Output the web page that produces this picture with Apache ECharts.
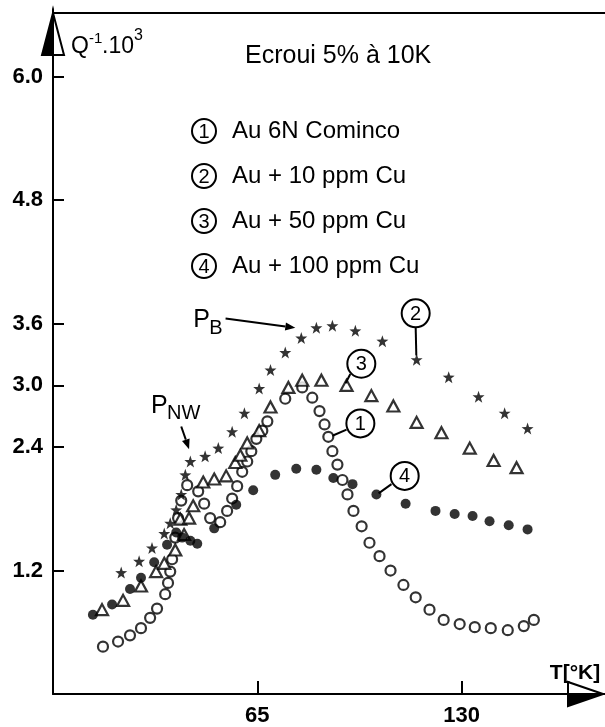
<!DOCTYPE html>
<html><head><meta charset="utf-8">
<script src="https://cdn.jsdelivr.net/npm/echarts@6/dist/echarts.min.js"></script>
<style>html,body{margin:0;padding:0;background:#fff}#c{width:605px;height:727px}</style>
</head><body><div id="c"></div>
<script>
// ---- data (T [K], Q^-1 x 10^3) ----
const cominco = [[15.9,0.46],[20.7,0.51],[24.5,0.57],[28.0,0.64],[30.9,0.74],[33.1,0.83],[35.7,0.97],[36.6,1.08],[37.3,1.19],[37.9,1.31],[38.9,1.52],[39.8,1.71],[40.8,1.88],[42.7,2.03],[46.2,1.97],[48.1,1.85],[50.0,1.71],[53.2,1.67],[55.4,1.78],[57.0,1.90],[58.6,2.02],[60.2,2.16],[61.8,2.26],[63.1,2.36],[64.7,2.48],[66.6,2.56],[68.2,2.65],[73.9,2.87],[79.3,2.98],[82.5,2.88],[84.8,2.75],[86.4,2.62],[87.6,2.50],[88.9,2.36],[90.5,2.23],[92.1,2.08],[93.7,1.94],[95.6,1.78],[98.2,1.63],[100.7,1.47],[103.9,1.34],[107.4,1.20],[111.5,1.06],[115.4,0.94],[119.8,0.82],[124.3,0.72],[129.4,0.68],[134.2,0.65],[139.3,0.64],[144.7,0.62],[149.8,0.66],[153.0,0.72]];
const cu10 = [[21.7,1.18],[27.4,1.29],[31.5,1.42],[35.4,1.56],[37.3,1.66],[39.2,1.79],[40.8,1.94],[42.1,2.13],[43.7,2.26],[48.4,2.31],[52.6,2.39],[57.0,2.55],[60.9,2.73],[65.6,2.97],[69.2,3.15],[73.9,3.32],[79.0,3.46],[83.8,3.56],[88.9,3.58],[96.2,3.53],[104.8,3.43],[115.7,3.25],[125.9,3.08],[135.4,2.89],[143.7,2.73],[151.0,2.58]];
const cu50 = [[15.6,0.82],[22.3,0.91],[28.0,1.05],[32.8,1.19],[35.4,1.27],[38.9,1.40],[41.7,1.55],[40.5,1.70],[43.3,1.71],[44.6,1.83],[47.8,2.06],[51.3,2.09],[55.1,2.12],[58.0,2.25],[59.6,2.32],[61.8,2.44],[65.6,2.56],[69.2,2.79],[74.9,2.98],[79.3,3.05],[85.4,3.05],[93.4,3.00],[101.3,2.90],[108.3,2.80],[115.7,2.64],[123.6,2.54],[132.6,2.39],[140.2,2.27],[147.5,2.20]];
const cu100 = [[12.7,0.77],[18.8,0.87],[24.5,1.02],[28.0,1.13],[32.2,1.28],[36.3,1.45],[39.2,1.57],[41.1,1.52],[43.7,1.49],[45.9,1.46],[51.3,1.61],[58.3,1.84],[63.7,1.98],[70.7,2.13],[77.4,2.19],[83.8,2.18],[89.2,2.10],[95.3,2.04],[102.9,1.94],[112.2,1.85],[121.7,1.78],[127.8,1.75],[133.5,1.73],[138.9,1.68],[145.0,1.64],[151.0,1.60]];
const yTicks = [1.2, 2.4, 3.0, 3.6, 4.8, 6.0];
const xTicks = [65, 130];
const title = 'Ecroui 5% à 10K';
const legendNames = ['Au 6N Cominco', 'Au + 10 ppm Cu', 'Au + 50 ppm Cu', 'Au + 100 ppm Cu'];
// circled-number annotations: [digit, circle centre, leader start, leader end] in data coords
const callouts = [
  ['1', [97.8, 2.63], [93.4, 2.57], [88.9, 2.51]],
  ['2', [115.4, 3.70], [115.4, 3.56], [115.6, 3.29]],
  ['3', [98.1, 3.21], [94.6, 3.11], [93.1, 3.02]],
  ['4', [111.9, 2.12], [107.7, 2.04], [103.6, 1.95]]
];
const pB = {text: [44.6, 3.63], from: [54.9, 3.65], to: [77.1, 3.56]};
const pNW = {text: [31.2, 2.80], from: [40.8, 2.60], to: [43.3, 2.38]};

const FONT = '"Liberation Sans", Arial, sans-serif';
const STAR = 'path://M0,-10 L2.35,-3.24 L9.51,-3.09 L3.8,1.24 L5.88,8.09 L0,4 L-5.88,8.09 L-3.8,1.24 L-9.51,-3.09 L-2.35,-3.24Z';

const chart = echarts.init(document.getElementById('c'), null, {renderer: 'canvas'});
const axisCommon = {
  axisLine: {show: true, lineStyle: {color: '#000', width: 2}},
  axisTick: {show: true, inside: true, length: 12, lineStyle: {color: '#000', width: 2}},
  splitLine: {show: false}
};
chart.setOption({
  animation: false,
  backgroundColor: '#fff',
  grid: {left: 53, right: 2, top: 15, bottom: 30, containLabel: false},
  xAxis: Object.assign({
    type: 'value', min: 0, max: 175,
    axisLabel: {customValues: xTicks, color: '#000', fontSize: 22, fontWeight: 'bold', fontFamily: FONT, margin: 11},
  }, axisCommon, {axisTick: Object.assign({}, axisCommon.axisTick, {customValues: xTicks, length: 13})}),
  yAxis: Object.assign({
    type: 'value', min: 0, max: 6.6,
    axisLabel: {customValues: yTicks, color: '#000', fontSize: 22, fontWeight: 'bold', fontFamily: FONT, margin: 10,
      formatter: v => v.toFixed(1)},
  }, axisCommon, {axisTick: Object.assign({}, axisCommon.axisTick, {customValues: yTicks, length: 11})}),
  series: [
    {name: legendNames[0], type: 'scatter', data: cominco, symbol: 'circle', symbolSize: 10,
      itemStyle: {color: '#fff', borderColor: '#000', borderWidth: 2.2}, z: 2},
    {name: legendNames[2], type: 'scatter', data: cu50, symbol: 'triangle', symbolSize: [12, 11],
      itemStyle: {color: '#fff', borderColor: '#000', borderWidth: 2.2}, z: 3},
    {name: legendNames[1], type: 'scatter', data: cu10, symbol: STAR, symbolSize: 12,
      itemStyle: {color: '#000'}, z: 4},
    {name: legendNames[3], type: 'scatter', data: cu100, symbol: 'circle', symbolSize: 10,
      itemStyle: {color: '#000'}, z: 5}
  ]
});

function P(d) { return chart.convertToPixel({gridIndex: 0}, d); }
const g = [];
const W = 605;
const gr = chart.getModel().getComponent('grid').coordinateSystem.getRect();
const ax0 = gr.x, ay0 = gr.y + gr.height, topY = gr.y - 2, rightX = gr.x + gr.width;
// frame top line
g.push({type: 'line', shape: {x1: ax0, y1: topY, x2: W, y2: topY}, style: {stroke: '#000', lineWidth: 2}, z: 10});
// y-axis arrow (left half filled)
g.push({type: 'polygon', shape: {points: [[ax0, topY], [ax0 + 11, topY + 42], [ax0, topY + 42]]}, style: {fill: '#fff', stroke: '#000', lineWidth: 2}, z: 11});
g.push({type: 'polygon', shape: {points: [[ax0, topY], [ax0 - 11, topY + 42], [ax0, topY + 42]]}, style: {fill: '#000', stroke: '#000', lineWidth: 2}, z: 11});
// x-axis arrow (lower half filled)
g.push({type: 'polygon', shape: {points: [[rightX, ay0], [rightX - 35, ay0 - 12], [rightX - 35, ay0]]}, style: {fill: '#fff', stroke: '#000', lineWidth: 2}, z: 11});
g.push({type: 'polygon', shape: {points: [[rightX, ay0], [rightX - 35, ay0 + 12], [rightX - 35, ay0]]}, style: {fill: '#000', stroke: '#000', lineWidth: 2}, z: 11});
// axis names
g.push({type: 'text', x: ax0 + 18, y: topY + 45, style: {text: 'Q', font: '23px ' + FONT, fill: '#000', verticalAlign: 'bottom'}, z: 12});
g.push({type: 'text', x: ax0 + 36, y: topY + 33, style: {text: '-1', font: '15px ' + FONT, fill: '#000', verticalAlign: 'bottom'}, z: 12});
g.push({type: 'text', x: ax0 + 49, y: topY + 45, style: {text: '.10', font: '23px ' + FONT, fill: '#000', verticalAlign: 'bottom'}, z: 12});
g.push({type: 'text', x: ax0 + 81, y: topY + 31, style: {text: '3', font: '16px ' + FONT, fill: '#000', verticalAlign: 'bottom'}, z: 12});
g.push({type: 'text', x: W - 30, y: ay0 - 21, style: {text: 'T[°K]', font: 'bold 21px ' + FONT, fill: '#000', align: 'center', verticalAlign: 'middle'}, z: 12});
// title & legend
g.push({type: 'text', x: 245, y: 56, style: {text: title, font: '25px ' + FONT, fill: '#000', verticalAlign: 'middle'}, z: 12});
function circled(cx, cy, d, r) {
  g.push({type: 'circle', shape: {cx: cx, cy: cy, r: r}, style: {fill: '#fff', stroke: '#000', lineWidth: 2}, z: 12});
  g.push({type: 'text', x: cx, y: cy + 1, style: {text: d, font: '20px ' + FONT, fill: '#000', align: 'center', verticalAlign: 'middle'}, z: 13});
}
legendNames.forEach((n, i) => {
  const cy = 131 + i * 45;
  circled(204, cy, String(i + 1), 12);
  g.push({type: 'text', x: 232, y: cy, style: {text: n, font: '24px ' + FONT, fill: '#000', verticalAlign: 'middle'}, z: 12});
});
// callouts
callouts.forEach(c => {
  const a = P(c[2]), b = P(c[3]), ctr = P(c[1]);
  g.push({type: 'line', shape: {x1: a[0], y1: a[1], x2: b[0], y2: b[1]}, style: {stroke: '#000', lineWidth: 2}, z: 12});
  circled(ctr[0], ctr[1], c[0], 14);
});
// P_B and P_NW labels with arrows
function arrow(f, t) {
  const a = P(f), b = P(t);
  const ang = Math.atan2(b[1] - a[1], b[0] - a[0]);
  const L = 10, Wd = 4;
  const bx = b[0] - L * Math.cos(ang), by = b[1] - L * Math.sin(ang);
  g.push({type: 'line', shape: {x1: a[0], y1: a[1], x2: bx, y2: by}, style: {stroke: '#000', lineWidth: 2}, z: 12});
  g.push({type: 'polygon', shape: {points: [[b[0], b[1]], [bx - Wd * Math.sin(ang), by + Wd * Math.cos(ang)], [bx + Wd * Math.sin(ang), by - Wd * Math.cos(ang)]]}, style: {fill: '#000'}, z: 12});
}
function pLabel(pos, sub) {
  const p = P(pos);
  g.push({type: 'text', x: p[0], y: p[1], style: {text: 'P', font: '25px ' + FONT, fill: '#000', verticalAlign: 'middle'}, z: 12});
  g.push({type: 'text', x: p[0] + 16, y: p[1] + 8, style: {text: sub, font: '20px ' + FONT, fill: '#000', verticalAlign: 'middle'}, z: 12});
}
pLabel(pB.text, 'B'); arrow(pB.from, pB.to);
pLabel(pNW.text, 'NW'); arrow(pNW.from, pNW.to);
chart.setOption({graphic: g});
</script></body></html>
